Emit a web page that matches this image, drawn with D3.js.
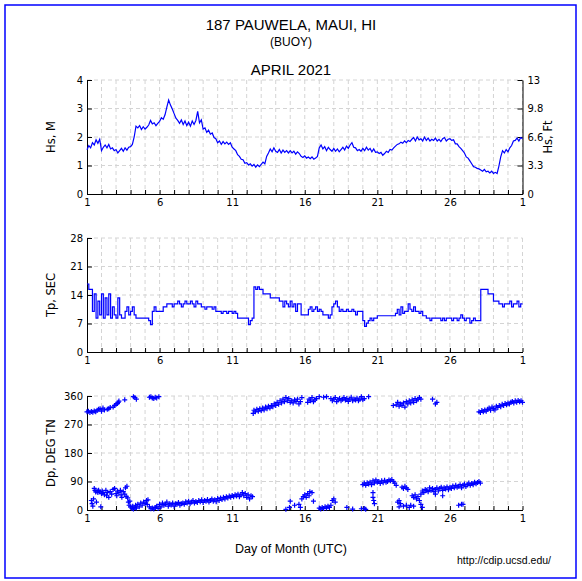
<!DOCTYPE html>
<html><head><meta charset="utf-8">
<script src="https://cdn.jsdelivr.net/npm/d3@7/dist/d3.min.js"></script>
<style>body{margin:0;background:#fff}svg{display:block}</style>
</head><body>
<svg id="chart" width="582" height="581"></svg>
<script>
// ---------------- DATA ----------------
const stationTitle = "187 PAUWELA, MAUI, HI";
const stationSub = "(BUOY)";
const monthTitle = "APRIL 2021";
const xAxisTitle = "Day of Month (UTC)";
const sourceText = "http://cdip.ucsd.edu/";

const dayTickValues = [1, 6, 11, 16, 21, 26, 31];
const dayTickLabels = ["1", "6", "11", "16", "21", "26", "1"];

const hsTicks = [0, 1, 2, 3, 4];
const hsFtTicks = [0, 3.28, 6.56, 9.84, 13.12];
const hsFtLabels = ["0", "3.3", "6.6", "9.8", "13"];
const tpTicks = [0, 7, 14, 21, 28];
const dpTicks = [0, 90, 180, 270, 360];

const sampleStartDay = 1;       // first sample, day of month
const samplesPerDay = 8;        // 3-hourly values

// Significant wave height (m), 3-hourly from Apr 1 00:00 to May 1 00:00
const hsValues = [
 1.55,1.70,1.62,1.80,1.72,1.90,1.78,1.92,
 1.52,1.64,1.72,1.62,1.74,1.58,1.62,1.52,
 1.56,1.44,1.52,1.60,1.50,1.62,1.54,1.64,
 1.66,1.74,2.00,2.38,2.32,2.40,2.26,2.36,
 2.28,2.34,2.42,2.58,2.46,2.50,2.40,2.48,
 2.55,2.68,2.62,2.78,3.05,3.30,3.12,2.98,
 2.82,2.66,2.58,2.48,2.60,2.44,2.56,2.40,
 2.52,2.38,2.56,2.44,2.58,2.90,2.50,2.60,
 2.28,2.32,2.16,2.24,2.10,2.14,1.98,1.94,
 1.80,1.86,1.74,1.84,1.76,1.82,1.74,1.80,
 1.64,1.58,1.52,1.38,1.32,1.22,1.20,1.08,
 1.10,1.02,1.06,0.98,1.04,0.94,1.02,0.96,
 1.04,1.12,1.06,1.32,1.44,1.58,1.48,1.62,
 1.50,1.46,1.56,1.44,1.54,1.46,1.52,1.44,
 1.52,1.44,1.50,1.40,1.48,1.42,1.32,1.28,
 1.34,1.26,1.30,1.24,1.30,1.22,1.26,1.32,
 1.62,1.72,1.58,1.66,1.52,1.64,1.56,1.50,
 1.60,1.50,1.58,1.48,1.56,1.64,1.54,1.68,
 1.60,1.72,1.80,1.64,1.62,1.52,1.56,1.50,
 1.60,1.52,1.64,1.54,1.60,1.48,1.58,1.46,
 1.48,1.42,1.46,1.36,1.42,1.50,1.46,1.56,
 1.54,1.62,1.68,1.74,1.76,1.82,1.78,1.86,
 1.80,1.88,1.84,1.92,1.98,1.86,2.00,1.90,
 1.94,1.86,2.00,1.88,1.96,1.86,1.92,1.88,
 1.96,1.86,1.92,1.84,1.94,1.98,1.86,1.92,
 1.94,1.88,1.90,1.76,1.76,1.66,1.60,1.52,
 1.44,1.30,1.26,1.16,1.06,0.96,0.94,0.90,
 0.88,0.84,0.80,0.86,0.78,0.80,0.74,0.80,
 0.72,0.76,0.72,0.98,1.30,1.52,1.44,1.56,
 1.48,1.62,1.70,1.86,1.88,1.96,1.86,1.98,
 1.94
];

// Peak period (s), 3-hourly
const tpValues = [
 16.7,15.4,15.4,10.0,14.3,8.3,12.5,9.1,
 14.3,8.3,13.3,9.1,14.3,8.3,11.1,9.1,
 8.3,13.3,9.1,8.3,8.3,10.0,11.1,9.1,
 10.0,11.1,9.1,8.3,8.3,8.3,8.3,8.3,
 8.3,8.3,7.7,6.7,10.0,11.1,10.0,10.0,
 10.0,10.0,11.1,11.1,11.8,11.8,11.8,11.1,
 11.8,11.8,12.5,11.8,11.1,11.8,12.5,11.8,
 11.8,12.5,11.8,11.1,12.5,11.8,11.8,11.1,
 11.1,10.5,11.1,11.1,11.1,10.5,11.1,10.0,
 10.0,10.0,9.5,10.0,10.0,9.5,10.0,10.0,
 9.5,10.0,9.5,8.3,8.3,8.3,8.3,8.3,
 8.3,6.7,7.7,8.3,16.0,15.4,16.0,15.4,
 15.4,14.3,14.3,14.3,14.3,13.3,13.3,13.3,
 13.3,13.3,12.5,12.5,11.1,12.5,11.8,11.1,
 12.5,11.1,11.8,10.0,11.8,11.8,9.1,9.1,
 9.1,9.1,10.5,11.1,10.0,10.5,11.1,10.0,
 10.5,10.0,9.1,9.1,9.1,8.3,9.1,11.1,
 11.8,12.5,11.1,10.0,10.5,10.0,10.0,10.5,
 10.0,10.0,10.5,10.0,9.1,10.0,10.0,10.0,
 7.7,6.3,7.1,7.7,8.3,7.7,8.3,8.3,
 8.9,8.9,8.9,8.9,8.9,8.9,8.9,8.9,
 8.9,8.9,9.5,10.5,9.1,11.1,9.5,10.0,
 10.0,11.8,10.5,10.0,11.1,10.0,10.0,9.5,
 10.0,8.9,8.9,8.3,8.3,7.7,8.3,8.3,
 8.3,8.3,8.3,7.7,8.3,7.7,8.3,8.3,
 8.3,7.7,8.3,8.3,7.7,8.3,9.1,8.3,
 7.7,8.3,8.3,7.1,7.7,8.3,7.7,7.7,
 7.7,15.4,15.4,15.4,15.4,14.3,14.3,14.3,
 12.5,12.5,12.5,11.8,11.8,11.1,11.8,11.8,
 11.8,12.5,11.1,11.8,11.8,12.5,11.1,11.8,
 11.8
];

// Peak direction observations: [day, degrees true north]
const dpObs = [
 [1.0,310],[1.1,312],[1.2,308],[1.3,311],[1.4,309],[1.5,313],[1.6,310],[1.7,315],[1.8,318],[1.9,320],
 [2.0,312],[2.1,322],[2.2,316],[2.4,318],[2.5,320],[2.6,324],[2.8,325],[2.9,330],[3.0,334],[3.1,336],
 [3.15,340],[3.2,344],[3.6,348],[4.2,358],[4.3,355],[4.4,350],[5.3,356],[5.4,358],[5.5,354],[5.6,352],
 [5.7,356],[5.8,354],[5.95,358],
 [1.3,30],[1.35,20],[1.4,12],[1.45,35],[1.5,68],[1.55,62],[1.6,57],[1.65,25],[1.7,60],[1.75,55],
 [1.8,62],[1.9,58],[1.95,10],[2.0,52],[2.05,60],[2.1,55],[2.2,48],[2.3,62],[2.35,45],[2.4,55],
 [2.5,40],[2.6,58],[2.7,50],[2.8,65],[2.9,68],[3.0,52],[3.05,45],[3.1,60],[3.2,55],[3.3,62],
 [3.35,48],[3.4,40],[3.5,58],[3.6,50],[3.65,70],[3.7,43],[3.75,75],[3.8,38],[3.85,25],[3.9,15],
 [3.95,28],[4.0,10],[4.1,5],[4.15,12],[4.2,3],[4.3,8],[4.35,15],[4.4,6],[4.5,18],[4.6,10],
 [4.7,22],[4.8,15],[4.9,25],[5.0,20],[5.1,30],[5.15,18],[5.2,32],[5.3,10],[5.4,4],[5.5,6],
 [5.6,3],[5.7,8],[5.8,12],[5.9,5],[6.0,18],[6.1,10],[6.2,22],[6.3,15],[6.4,18],[6.5,25],
 [6.6,12],[6.7,20],[6.8,16],[6.9,22],[7.0,12],[7.1,20],[7.2,18],[7.3,24],[7.4,15],[7.5,20],
 [7.6,22],[7.7,18],[7.8,26],[7.9,22],[8.0,28],[8.1,20],[8.2,25],[8.3,30],[8.4,22],[8.5,27],
 [8.6,24],[8.7,30],[8.8,26],[8.9,32],[9.0,24],[9.1,30],[9.2,28],[9.3,33],[9.4,25],[9.5,30],
 [9.6,35],[9.7,28],[9.8,32],[9.9,26],[10.0,36],[10.1,30],[10.2,38],[10.3,33],[10.4,40],[10.5,35],
 [10.6,42],[10.7,38],[10.8,44],[10.9,40],[11.0,46],[11.1,42],[11.2,48],[11.3,44],[11.4,50],[11.5,42],
 [11.6,48],[11.7,55],[11.8,45],[11.9,52],[12.0,40],[12.1,48],[12.2,35],[12.3,45],[12.4,42],
 [12.45,305],[12.5,315],[12.6,310],[12.7,318],[12.8,312],[12.9,320],[13.0,314],[13.1,322],[13.2,316],[13.3,325],
 [13.4,320],[13.5,328],[13.6,322],[13.7,330],[13.8,326],[13.9,335],[14.0,330],[14.1,340],[14.2,334],[14.3,345],
 [14.4,338],[14.5,350],[14.6,342],[14.7,355],[14.8,345],[14.9,352],[15.0,340],[15.1,345],[15.2,338],[15.3,348],
 [15.4,342],[15.5,350],[15.6,335],[15.7,342],[15.8,355],[16.2,340],[16.3,350],[16.4,345],[16.5,355],[16.6,342],
 [16.7,348],[16.8,352],[17.0,358],[17.3,356],[17.5,358],[17.8,352],[17.9,345],[18.0,350],[18.1,355],[18.2,342],
 [18.3,348],[18.4,352],[18.5,345],[18.6,350],[18.7,355],[18.8,347],[18.9,352],[19.0,343],[19.1,350],[19.2,356],
 [19.3,345],[19.4,350],[19.5,347],[19.6,353],[19.7,345],[19.8,350],[19.9,358],[20.0,348],[20.1,352],[20.4,358],
 [14.7,2],[15.0,28],[15.3,15],[14.95,8],[15.6,18],[15.7,8],[15.8,35],[15.9,42],[16.0,48],[16.1,40],
 [16.2,52],[16.3,45],[16.35,58],[16.5,55],[16.6,28],[17.0,6],[17.1,3],[17.2,8],[17.3,5],[17.4,10],
 [17.5,6],[17.6,12],[17.7,8],[17.8,15],[17.9,30],[18.1,25],[18.0,35],[18.9,8],[19.3,3],[19.9,4],
 [20.1,5],[20.2,2],
 [20.0,80],[20.1,85],[20.2,78],[20.3,86],[20.4,82],[20.5,88],[20.6,80],[20.7,92],[20.8,85],[20.9,95],
 [21.0,88],[21.1,90],[21.2,84],[21.3,92],[21.4,86],[21.5,94],[21.6,88],[21.7,90],[21.8,95],[21.9,92],
 [22.0,96],[22.1,90],[22.2,85],[22.3,78],[20.7,40],[20.75,30],[20.8,20],[20.7,55],[22.4,25],[22.5,30],
 [22.6,20],[22.7,72],[22.8,68],[22.9,75],[22.5,10],[22.8,12],[23.0,70],[23.1,65],[23.0,15],[23.2,8],
 [23.3,15],[23.4,45],[23.5,40],[23.6,48],[23.7,35],[23.8,42],[23.5,12],[23.9,30],[24.0,50],[24.1,60],
 [24.2,55],[24.3,65],[24.0,18],[24.1,8],[24.4,62],[24.5,58],[24.6,70],[24.7,62],[24.8,68],[24.9,58],
 [25.0,65],[25.1,70],[25.2,60],[25.3,68],[25.4,72],[25.5,62],[25.6,70],[25.7,66],[25.8,73],[25.9,64],
 [26.0,72],[26.1,68],[26.2,76],[26.3,70],[26.4,78],[26.5,72],[26.6,75],[26.7,80],[26.8,70],[26.9,78],
 [27.0,82],[27.1,74],[27.2,80],[27.3,85],[27.4,78],[27.5,84],[27.6,80],[27.7,88],[27.8,83],[27.9,87],
 [28.0,90],[28.1,85],[26.6,15],[26.8,18],[26.9,18],[25.5,45],[25.0,50],
 [22.1,330],[22.3,332],[22.4,340],[22.5,328],[22.6,335],[22.7,330],[22.8,338],[22.9,325],[23.0,342],[23.1,335],
 [23.2,345],[23.3,338],[23.4,348],[23.5,340],[23.6,352],[23.7,345],[23.8,350],[23.9,355],[24.0,350],[24.8,350],
 [25.0,335],[25.1,340],
 [28.0,310],[28.1,308],[28.2,314],[28.3,310],[28.4,316],[28.5,312],[28.6,318],[28.7,322],[28.8,315],[28.9,325],
 [29.0,320],[29.1,316],[29.2,328],[29.3,324],[29.4,330],[29.5,326],[29.6,334],[29.7,330],[29.8,336],[29.9,332],
 [30.0,338],[30.1,335],[30.2,340],[30.3,343],[30.4,338],[30.5,345],[30.6,340],[30.7,346],[30.8,342],[30.9,345],
 [31.0,340]
];

// ---------------- DRAWING ----------------
const svg = d3.select("#chart");
const BLUE = "#0000ff";
const GRID = "#d4d4d4";
const HEAD_FONT = "'Liberation Sans', Arial, sans-serif";
const TICK_FONT = "'DejaVu Sans', sans-serif";

svg.append("rect").attr("x", 5).attr("y", 5).attr("width", 571).attr("height", 573)
  .attr("fill", "#fff").attr("stroke", BLUE).attr("stroke-width", 1.5);

svg.append("text").attr("x", 291).attr("y", 30).attr("text-anchor", "middle")
  .attr("font-family", HEAD_FONT).attr("font-size", 15).text(stationTitle);
svg.append("text").attr("x", 291).attr("y", 46).attr("text-anchor", "middle")
  .attr("font-family", HEAD_FONT).attr("font-size", 12).text(stationSub);
svg.append("text").attr("x", 291).attr("y", 75).attr("text-anchor", "middle")
  .attr("font-family", HEAD_FONT).attr("font-size", 15).text(monthTitle);
svg.append("text").attr("x", 291).attr("y", 553).attr("text-anchor", "middle")
  .attr("font-family", HEAD_FONT).attr("font-size", 12.5).text(xAxisTitle);
svg.append("text").attr("x", 551).attr("y", 564).attr("text-anchor", "end")
  .attr("font-family", HEAD_FONT).attr("font-size", 10.5).text(sourceText);

const left = 87, right = 522.5, ph = 114;
const x = d3.scaleLinear().domain([1, 31]).range([left, right]);
const allDays = d3.range(1, 32);
const sampleDay = i => sampleStartDay + i / samplesPerDay;

function panel(top, yDomain, yTicks, title) {
  const g = svg.append("g");
  const y = d3.scaleLinear().domain(yDomain).range([top + ph, top]);
  const grid = g.append("g").attr("stroke", GRID).attr("stroke-width", 1).attr("stroke-dasharray", "4,3");
  grid.selectAll("line.v").data(allDays.slice(1)).join("line")
    .attr("x1", d => x(d)).attr("x2", d => x(d)).attr("y1", top).attr("y2", top + ph);
  grid.selectAll("line.h").data(yTicks.slice(1)).join("line")
    .attr("x1", left).attr("x2", right).attr("y1", d => y(d)).attr("y2", d => y(d));
  const la = g.append("g").attr("transform", `translate(${left},0)`)
    .call(d3.axisLeft(y).tickValues(yTicks).tickSizeInner(-5).tickSizeOuter(0).tickPadding(4).tickFormat(d3.format("d")));
  const ba = g.append("g").attr("transform", `translate(0,${top + ph})`)
    .call(d3.axisBottom(x).tickValues(allDays).tickSizeInner(-4).tickSizeOuter(0).tickPadding(3)
      .tickFormat(d => { const k = dayTickValues.indexOf(d); return k >= 0 ? dayTickLabels[k] : ""; }));
  [la, ba].forEach(a => {
    a.selectAll("path").attr("stroke", "#000");
    a.selectAll("line").attr("stroke", "#000");
    a.selectAll("text").attr("font-family", TICK_FONT).attr("font-size", 10).attr("fill", "#000");
  });
  ba.selectAll("text").attr("dy", "0.9em");
  svg.append("text").attr("transform", `translate(55,${top + ph / 2}) rotate(-90)`)
    .attr("text-anchor", "middle").attr("font-family", TICK_FONT).attr("font-size", 11.5).text(title);
  return { g, y };
}

// Panel 1 : Hs
const p1 = panel(80, [0, 4], hsTicks, "Hs, M");
const yFt = d3.scaleLinear().domain([0, 13.12]).range([80 + ph, 80]);
const ra = p1.g.append("g").attr("transform", `translate(${right},0)`)
  .call(d3.axisRight(yFt).tickValues(hsFtTicks).tickSizeInner(-5).tickSizeOuter(0).tickPadding(5)
    .tickFormat((d, i) => hsFtLabels[i]));
ra.selectAll("path,line").attr("stroke", "#000");
ra.selectAll("text").attr("font-family", TICK_FONT).attr("font-size", 10).attr("fill", "#000");
svg.append("text").attr("transform", `translate(552,${80 + ph / 2}) rotate(-90)`)
  .attr("text-anchor", "middle").attr("font-family", TICK_FONT).attr("font-size", 11.5).text("Hs, Ft");
p1.g.append("path").datum(hsValues)
  .attr("fill", "none").attr("stroke", BLUE).attr("stroke-width", 1.2)
  .attr("d", d3.line().x((d, i) => x(sampleDay(i))).y(d => p1.y(d)));

// Panel 2 : Tp
const p2 = panel(238, [0, 28], tpTicks, "Tp, SEC");
p2.g.append("path").datum(tpValues)
  .attr("fill", "none").attr("stroke", BLUE).attr("stroke-width", 1.2)
  .attr("d", d3.line().x((d, i) => x(sampleDay(i))).y(d => p2.y(d)).curve(d3.curveStepAfter));

// Panel 3 : Dp
const p3 = panel(396, [0, 360], dpTicks, "Dp, DEG TN");
p3.g.append("g").selectAll("path").data(dpObs).join("path")
  .attr("d", d => { const cx = x(d[0]), cy = p3.y(d[1]);
    return `M${cx - 2.5},${cy}h5M${cx},${cy - 2.5}v5`; })
  .attr("stroke", BLUE).attr("stroke-width", 1.2).attr("fill", "none");
</script>
</body></html>
